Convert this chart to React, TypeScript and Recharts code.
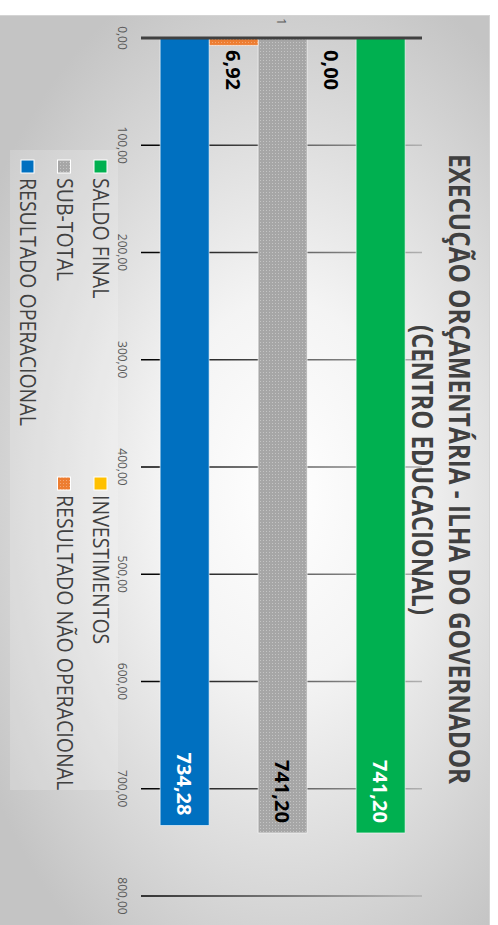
import { BarChart, Bar, XAxis, YAxis, CartesianGrid, Legend } from 'recharts';

const categories = ['1'];
const seriesNames = [
  'SALDO FINAL',
  'INVESTIMENTOS',
  'SUB-TOTAL',
  'RESULTADO NÃO OPERACIONAL',
  'RESULTADO OPERACIONAL'
];
const seriesValues = [741.2, 0, 741.2, 6.92, 734.28];
const seriesFills = ['#00B050', '#FFC000', 'url(#dotsGray)', 'url(#dotsOrange)', '#0070C0'];
const labelColors = ['#ffffff', '#000000', '#000000', '#000000', '#ffffff'];
const valueTicks = [0, 100, 200, 300, 400, 500, 600, 700, 800];
const titleLines = ['EXECUÇÃO ORÇAMENTÁRIA - ILHA DO GOVERNADOR', '(CENTRO EDUCACIONAL)'];

const data = categories.map((name) => {
  const row: any = { name };
  seriesNames.forEach((s, i) => { row['s' + i] = seriesValues[i]; });
  return row;
});

const fmt = (v: number) => Number(v).toFixed(2).replace('.', ',');

const FONT = '"Open Sans", sans-serif';

// étiquettes : dans la barre à la fin, ou à droite si la barre est trop courte
const makeLabel = (color: string) => (props: any) => {
  const { x, y, width, height, value } = props;
  const inside = width > 70;
  return (
    <text
      x={inside ? x + width - 10 : x + 12}
      y={y + height / 2}
      textAnchor={inside ? 'end' : 'start'}
      dominantBaseline="central"
      fill={inside ? color : '#000'}
      fontSize={20}
      fontWeight={700}
      fontFamily={FONT}
    >
      {fmt(value)}
    </text>
  );
};

const CustomLegend = () => (
  <svg width={640} height={108}>
    <rect x={0} y={0} width={640} height={108} fill="#ffffff" opacity={0.18} />
    {seriesNames.map((name, i) => {
      const col = i % 2;
      const row = Math.floor(i / 2);
      const bx = col === 0 ? 10 : 327;
      const base = 25 + row * 36.5;
      return (
        <g key={name}>
          <rect x={bx} y={base - 14} width={13} height={13} fill={seriesFills[i]} stroke="#ffffff" strokeWidth={1} />
          <text
            x={0}
            y={0}
            transform={`translate(${bx + 18}, ${base}) scale(0.93, 1)`}
            fontSize={21}
            fontFamily={FONT}
            fill="#404040"
          >
            {name}
          </text>
        </g>
      );
    })}
  </svg>
);

export default function App() {
  return (
    <div style={{ position: 'absolute', left: 0, top: 0, width: 498, height: 925, overflow: 'hidden', background: '#fff' }}>
      <div
        style={{
          position: 'absolute',
          left: 0,
          top: 0,
          width: 925,
          height: 498,
          transformOrigin: '0 0',
          transform: 'translateX(498px) rotate(90deg)'
        }}
      >
        <div
          style={{
            position: 'absolute',
            left: 15,
            top: 8,
            width: 915,
            height: 495,
            border: '1px solid #d4d4d4',
            boxSizing: 'border-box',
            background: 'radial-gradient(ellipse 60% 70% at 52% 42%, #ffffff 0%, #f4f4f4 35%, #c4c4c4 100%)'
          }}
        />
        <div style={{ position: 'absolute', left: 0, top: 0 }}>
          <BarChart
            width={925}
            height={498}
            data={data}
            layout="vertical"
            margin={{ top: 76, right: 29, bottom: 111, left: 18 }}
            barCategoryGap="6%"
            barGap={0}
          >
            <defs>
              <linearGradient id="gridFade" gradientUnits="userSpaceOnUse" x1={0} y1={357} x2={0} y2={76}>
                <stop offset="0%" stopColor="#000000" />
                <stop offset="100%" stopColor="#b0b0b0" />
              </linearGradient>
              <pattern id="dotsGray" width={3} height={3} patternUnits="userSpaceOnUse">
                <rect width={3} height={3} fill="#a6a6a6" />
                <rect width={1} height={1} fill="#c4c4c4" />
              </pattern>
              <pattern id="dotsOrange" width={3} height={3} patternUnits="userSpaceOnUse">
                <rect width={3} height={3} fill="#ed7d31" />
                <rect width={1} height={1} fill="#f4a673" />
              </pattern>
            </defs>
            <CartesianGrid horizontal={false} stroke="url(#gridFade)" strokeWidth={1.5} />
            <XAxis
              type="number"
              domain={[0, 800]}
              ticks={valueTicks}
              tickFormatter={fmt}
              axisLine={false}
              tickLine={false}
              tickMargin={8}
              height={30}
              tick={{ fontSize: 12, fill: '#595959', fontFamily: FONT }}
            />
            <YAxis
              type="category"
              dataKey="name"
              width={20}
              axisLine={{ stroke: '#404040', strokeWidth: 3 }}
              tickLine={false}
              tickMargin={7}
              tick={{ fontSize: 12, fill: '#595959', fontFamily: FONT }}
            />
            <Legend
              layout="horizontal"
              verticalAlign="middle"
              align="center"
              content={<CustomLegend />}
              wrapperStyle={{ top: 380, left: 150, width: 640, height: 108 }}
            />
            {seriesNames.map((name, i) => (
              <Bar
                key={name}
                dataKey={'s' + i}
                name={name}
                fill={seriesFills[i]}
                stroke={seriesValues[i] === 0 ? 'none' : 'rgba(255,255,255,0.6)'}
                strokeWidth={1}
                minPointSize={0.3}
                isAnimationActive={false}
                label={makeLabel(labelColors[i])}
              />
            ))}
          </BarChart>
        </div>
        <svg
          width={925}
          height={100}
          style={{ position: 'absolute', left: 0, top: 0, pointerEvents: 'none' }}
        >
          <text x={154} y={49} textLength={630} lengthAdjust="spacingAndGlyphs" fontSize={28} fontWeight={700} fontFamily={FONT} fill="#404040">
            {titleLines[0]}
          </text>
          <text x={325} y={86} textLength={290} lengthAdjust="spacingAndGlyphs" fontSize={28} fontWeight={700} fontFamily={FONT} fill="#404040">
            {titleLines[1]}
          </text>
        </svg>
      </div>
    </div>
  );
}
